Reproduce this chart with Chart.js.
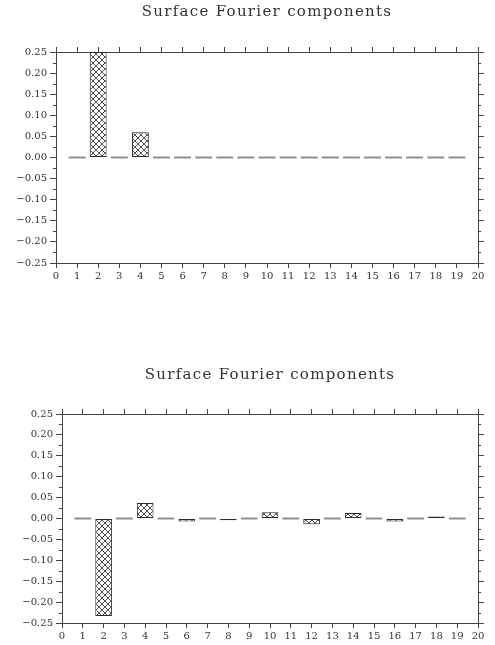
<!DOCTYPE html>
<html>
<head>
<meta charset="utf-8">
<script src="https://cdn.jsdelivr.net/npm/chart.js@4/dist/chart.umd.min.js"></script>
<style>
  html, body { margin: 0; padding: 0; background: #fff; }
  #wrap { position: relative; width: 495px; height: 645px; overflow: hidden; }
  canvas { position: absolute; left: 0; }
  .title {
    position: absolute;
    font-family: "DejaVu Serif", serif;
    font-size: 15px;
    line-height: 18px;
    letter-spacing: 1.3px;
    color: #333;
    white-space: nowrap;
    transform: translateX(-50%);
  }
</style>
</head>
<body>
<div id="wrap">
  <canvas id="c1" width="495" height="322" style="top:0px"></canvas>
  <canvas id="c2" width="495" height="323" style="top:322px"></canvas>
  <div class="title" style="left:267px; top:2px;">Surface Fourier components</div>
  <div class="title" style="left:270px; top:365px;">Surface Fourier components</div>
</div>

<script>
// Wavenumbers and surface Fourier amplitudes
const wavenumbers = [1, 2, 3, 4, 5, 6, 7, 8, 9, 10, 11, 12, 13, 14, 15, 16, 17, 18, 19];
const amplitudeTop = [0, 0.25, 0, 0.06, 0, 0, 0, 0, 0, 0, 0, 0, 0, 0, 0, 0, 0, 0, 0];
const amplitudeBottom = [0, -0.233, 0, 0.037, 0, -0.007, 0, -0.004, 0, 0.015, 0, -0.014, 0, 0.013, 0, -0.007, 0, 0.005, 0];

// Axis tick values
const xTicks = [0, 1, 2, 3, 4, 5, 6, 7, 8, 9, 10, 11, 12, 13, 14, 15, 16, 17, 18, 19, 20];
const yTicks = [-0.25, -0.20, -0.15, -0.10, -0.05, 0, 0.05, 0.10, 0.15, 0.20, 0.25];

const AXIS = '#444';
const TEXT = '#333';
const FONT = { family: '"DejaVu Serif", serif', size: 10 };

// Cross-hatch fill for the bars
function crossHatch() {
  const c = document.createElement('canvas');
  c.width = 6; c.height = 6;
  const g = c.getContext('2d');
  g.fillStyle = '#fff';
  g.fillRect(0, 0, 6, 6);
  g.strokeStyle = '#3a3a3a';
  g.lineWidth = 0.9;
  g.beginPath();
  g.moveTo(0, 0); g.lineTo(6, 6);
  g.moveTo(6, 0); g.lineTo(0, 6);
  g.stroke();
  return g.createPattern(c, 'repeat');
}

function fmtY(v) {
  const r = Math.round(v * 100) / 100;
  return (r < 0 ? '\u2212' : '') + Math.abs(r).toFixed(2);
}

// Zero-amplitude wavenumbers are drawn as short grey dashes along y = 0
const zeroDashes = {
  id: 'zeroDashes',
  beforeDatasetsDraw(chart) {
    const meta = chart.getDatasetMeta(0);
    const ys = chart.scales.y;
    const y0 = ys.getPixelForValue(0);
    const ctx = chart.ctx;
    ctx.save();
    ctx.strokeStyle = '#8e8e8e';
    ctx.lineWidth = 2;
    meta.data.forEach((el, i) => {
      if (chart.data.datasets[0].data[i].y !== 0) return;
      const { x, width } = el.getProps(['x', 'width'], true);
      ctx.beginPath();
      ctx.moveTo(x - width / 2, y0);
      ctx.lineTo(x + width / 2, y0);
      ctx.stroke();
    });
    ctx.restore();
  }
};

// Short minor ticks halfway between the labelled y ticks, on both sides
const minorTicks = {
  id: 'minorTicks',
  afterDraw(chart) {
    const { ctx, chartArea } = chart;
    const ys = chart.scales.y;
    ctx.save();
    ctx.strokeStyle = AXIS;
    ctx.lineWidth = 1;
    for (let i = 0; i < yTicks.length - 1; i++) {
      const v = (yTicks[i] + yTicks[i + 1]) / 2;
      const py = Math.round(ys.getPixelForValue(v)) + 0.5;
      ctx.beginPath();
      ctx.moveTo(chartArea.left - 3, py); ctx.lineTo(chartArea.left, py);
      ctx.moveTo(chartArea.right, py); ctx.lineTo(chartArea.right + 3, py);
      ctx.stroke();
    }
    ctx.restore();
  }
};

function makeChart(id, values, box) {
  const setX = s => { s.ticks = xTicks.map(v => ({ value: v })); };
  const setY = s => { s.ticks = yTicks.map(v => ({ value: v })); };
  const xCommon = {
    type: 'linear', min: 0, max: 20, offset: false,
    afterBuildTicks: setX,
    grid: { drawOnChartArea: false, offset: false, tickLength: 5, color: AXIS, tickColor: AXIS },
    border: { color: AXIS, width: 1 }
  };
  const yCommon = {
    type: 'linear', min: -0.25, max: 0.25,
    afterBuildTicks: setY,
    grid: { drawOnChartArea: false, tickLength: 6, color: AXIS, tickColor: AXIS },
    border: { color: AXIS, width: 1 }
  };
  return new Chart(document.getElementById(id), {
    type: 'bar',
    data: {
      datasets: [{
        data: wavenumbers.map((k, i) => ({ x: k, y: values[i] })),
        backgroundColor: crossHatch(),
        borderColor: '#2a2a2a',
        borderWidth: 1,
        borderSkipped: false,
        barPercentage: 0.8,
        categoryPercentage: 1.0
      }]
    },
    options: {
      responsive: false,
      animation: false,
      devicePixelRatio: 1,
      layout: { padding: 0 },
      plugins: { legend: { display: false }, tooltip: { enabled: false }, title: { display: false } },
      scales: {
        x: Object.assign({}, xCommon, {
          position: 'bottom',
          ticks: { font: FONT, color: TEXT, padding: 2, maxRotation: 0, autoSkip: false },
          afterFit: s => { s.height = box.bottom; }
        }),
        x2: Object.assign({}, xCommon, {
          axis: 'x', position: 'top',
          ticks: { display: false },
          afterFit: s => { s.height = box.top; }
        }),
        y: Object.assign({}, yCommon, {
          position: 'left',
          ticks: { font: FONT, color: TEXT, padding: 3, callback: v => fmtY(v) },
          afterFit: s => { s.width = box.left; }
        }),
        y2: Object.assign({}, yCommon, {
          axis: 'y', position: 'right',
          ticks: { display: false },
          afterFit: s => { s.width = box.right; }
        })
      }
    },
    plugins: [zeroDashes, minorTicks]
  });
}

makeChart('c1', amplitudeTop, { top: 52, bottom: 59, left: 56, right: 17 });
makeChart('c2', amplitudeBottom, { top: 92, bottom: 22, left: 62, right: 17 });
</script>
</body>
</html>
